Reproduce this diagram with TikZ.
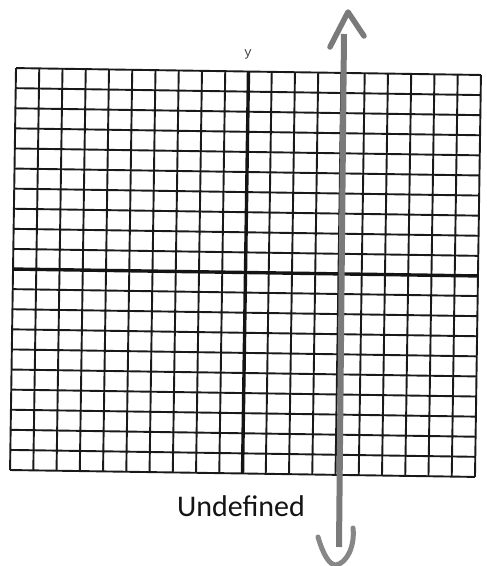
\documentclass[tikz,border=0pt]{standalone}
\usepackage{fontspec}
\newfontfamily\labelfont{Carlito}
\newfontfamily\axisfont{Liberation Mono}
\begin{document}
\begin{tikzpicture}[x=1pt,y=1pt,
  gridline/.style={line width=1.9pt, black!90},
  axisline/.style={line width=3.4pt, black!92},
  marker/.style={line width=6pt, black!52, line cap=round, line join=round},
  lbl/.style={font=\labelfont\fontsize{30}{30}\selectfont, text=black!92, inner sep=0pt},
  axlbl/.style={font=\axisfont\fontsize{13}{13}\selectfont, text=black!75, inner sep=0pt}]
\useasboundingbox (0,0) rectangle (487,566);
\fill[white] (0,0) rectangle (487,566);
% grid
\begin{scope}[shift={(245.5,293.5)}, rotate=-0.85]
  \foreach \i in {-10,...,10} {
    \draw[gridline] (\i*23.25,-201) -- (\i*23.25,201);
    \draw[gridline] (-232.5,\i*20.1) -- (232.5,\i*20.1);
  }
  \draw[axisline] (0,-201) -- (0,201);
  \draw[axisline] (-232.5,0) -- (232.5,0);
\end{scope}
% labels
\node[axlbl] (ylab) at (248,512) {y};
\node[lbl, anchor=base] (undef) at (241,49) {Undefined};
% hand-drawn vertical line with arrows
\coordinate (ltop) at (344,532);
\coordinate (lbot) at (339,19);
\draw[marker, line cap=butt] (ltop) -- (lbot);
\coordinate (ha) at (330,519);
\coordinate (hb) at (348,554);
\coordinate (hc) at (364,530);
\draw[marker, line width=5.5pt] (ha) -- (hb) -- (hc);
\coordinate (ba) at (318,29);
\coordinate (bb) at (336,1);
\coordinate (bc) at (353,38);
\draw[marker, line width=5pt, black!47] (ba) .. controls (323,12) and (329,1) .. (bb) .. controls (347,3) and (355,20) .. (bc);
\end{tikzpicture}
\end{document}
